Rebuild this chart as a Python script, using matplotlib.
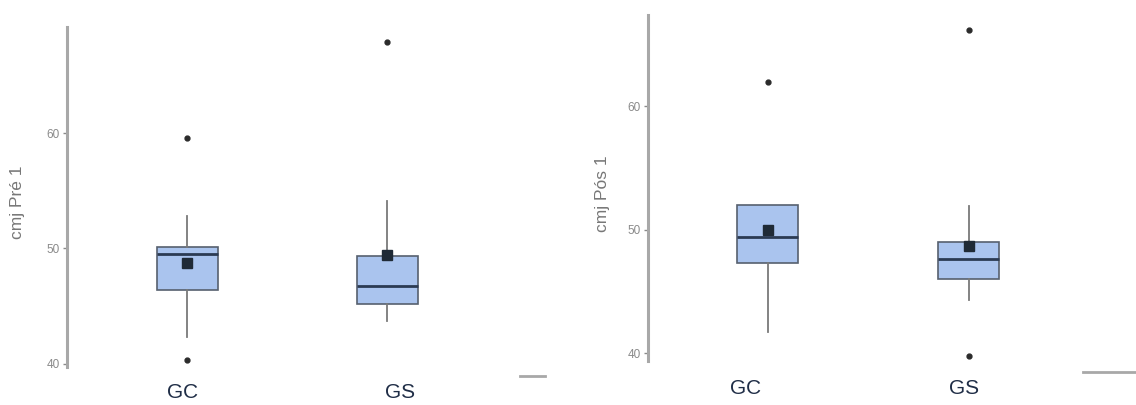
import matplotlib.pyplot as plt
import matplotlib.lines as mlines

# --- Data ---
groups = ['GC', 'GS']

# cmj Pré 1
pre_q1 = [46.4, 45.2]
pre_med = [49.5, 46.7]
pre_q3 = [50.1, 49.3]
pre_wlo = [42.3, 43.7]
pre_whi = [52.8, 54.1]
pre_mean = [48.7, 49.4]
pre_fliers = [[59.6, 40.3], [67.9]]

# cmj Pós 1
pos_q1 = [47.35, 46.0]
pos_med = [49.4, 47.6]
pos_q3 = [52.0, 49.0]
pos_wlo = [41.7, 44.3]
pos_whi = [52.0, 51.9]
pos_mean = [49.95, 48.7]
pos_fliers = [[62.0], [66.2, 39.8]]

yticks = [40, 50, 60]

W, H = 1136, 405
fig = plt.figure(figsize=(W / 100, H / 100), dpi=100)
plt.rcParams['font.family'] = ['Liberation Sans', 'DejaVu Sans']

axis_col = '#a8a8a8'
tick_col = '#8a8a8a'


def make_stats(q1, med, q3, wlo, whi, mean, fliers):
    return [dict(q1=q1[i], med=med[i], q3=q3[i], whislo=wlo[i], whishi=whi[i],
                 mean=mean[i], fliers=fliers[i], label=groups[i])
            for i in range(len(groups))]


def draw_panel(rect, xlim, ylim, stats, ylabel, label_xy, width):
    ax = fig.add_axes(rect)
    ax.bxp(stats, positions=[1, 2], widths=width, patch_artist=True,
           showmeans=True, showcaps=False,
           boxprops=dict(facecolor='#aac4ee', edgecolor='#56606e', linewidth=1.2),
           medianprops=dict(color='#2b3a52', linewidth=2.0),
           whiskerprops=dict(color='#7a7a7a', linewidth=1.3),
           meanprops=dict(marker='s', markersize=7.5, markerfacecolor='#1f2a36',
                          markeredgecolor='#1f2a36'),
           flierprops=dict(marker='o', markersize=3.5, markerfacecolor='#2b2b2b',
                           markeredgecolor='#2b2b2b'))
    ax.set_xlim(*xlim)
    ax.set_ylim(*ylim)
    for s in ['top', 'right', 'bottom']:
        ax.spines[s].set_visible(False)
    ax.spines['left'].set_color(axis_col)
    ax.spines['left'].set_linewidth(2.2)
    ax.set_xticks([])
    ax.set_yticks(yticks)
    ax.tick_params(axis='y', length=3, width=1, color=tick_col, labelcolor=tick_col,
                   labelsize=8.5, pad=2)
    ax.set_ylabel(ylabel, fontsize=12.5, color='#777777')
    ax.yaxis.set_label_coords(*label_xy)
    ax.patch.set_alpha(0)
    return ax


# left panel: axis at x=67, bottom y=367, top y=27
draw_panel([67 / W, 1 - 367 / H, 400 / W, 340 / H], (0.4, 2.4), (39.7, 69.2),
           make_stats(pre_q1, pre_med, pre_q3, pre_wlo, pre_whi, pre_mean, pre_fliers),
           'cmj Pré 1', (-0.105, 0.485), 0.305)

# right panel: axis at x=648, bottom y=360.7, top y=15
draw_panel([648 / W, 1 - 360.7 / H, 400 / W, 345.7 / H], (0.4045, 0.4045 + 400 / 201),
           (39.4, 67.4),
           make_stats(pos_q1, pos_med, pos_q3, pos_wlo, pos_whi, pos_mean, pos_fliers),
           'cmj Pós 1', (-0.095, 0.482), 0.303)

# group labels under the panels
label_col = '#1f2d46'
for x, y, t in [(183, 392, 'GC'), (400, 392, 'GS'), (746, 388, 'GC'), (964, 388, 'GS')]:
    fig.text(x / W, 1 - y / H, t, ha='center', va='center', fontsize=15, color=label_col)

# short grey strokes at the bottom right of each panel
for x0, x1, y in [(520, 545, 376), (1083, 1136, 372)]:
    fig.add_artist(mlines.Line2D([x0 / W, x1 / W], [1 - y / H, 1 - y / H],
                                 color='#a8a8a8', linewidth=2.0))

fig.savefig('out.png', dpi=100)
